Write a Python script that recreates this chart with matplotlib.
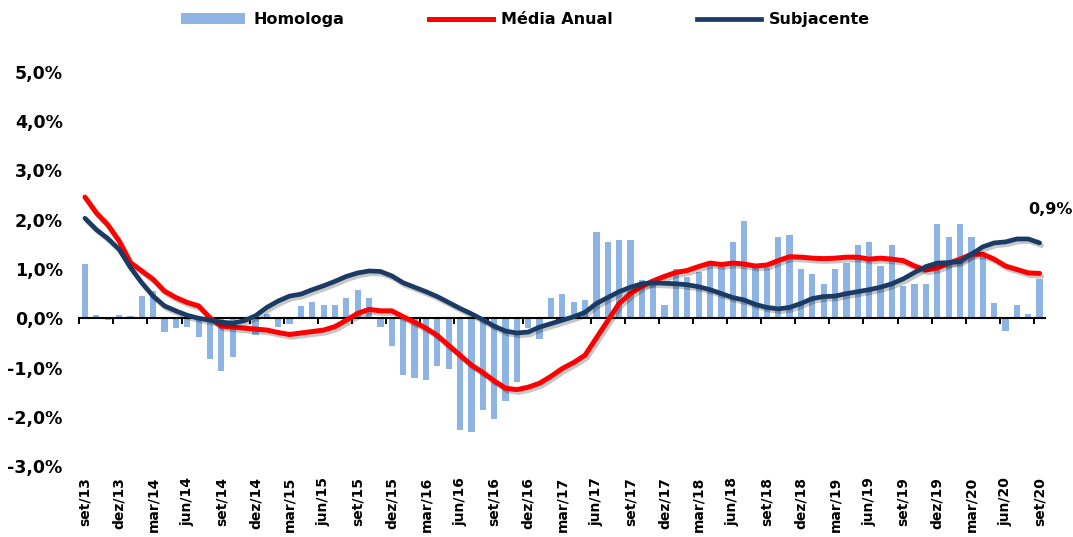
import numpy as np
import matplotlib.pyplot as plt
import matplotlib.patheffects as pe
from matplotlib.lines import Line2D
from matplotlib.patches import Patch
from matplotlib.ticker import FuncFormatter

# monthly values, set/13 .. set/20 (in %)
homologa = [1.1, 0.07, -0.04, 0.07, 0.04, 0.45, 0.55, -0.27, -0.2, -0.17,
            -0.39, -0.82, -1.07, -0.78, -0.03, -0.33, 0.08, -0.18, -0.11, 0.24,
            0.34, 0.27, 0.27, 0.41, 0.57, 0.41, -0.18, -0.57, -1.15, -1.21,
            -1.25, -0.97, -1.03, -2.27, -2.31, -1.86, -2.05, -1.69, -1.29, -0.2,
            -0.43, 0.42, 0.5, 0.34, 0.37, 1.76, 1.55, 1.59, 1.59, 0.78,
            0.78, 0.27, 0.99, 0.84, 0.94, 1.15, 1.05, 1.55, 1.98, 1.04,
            1.02, 1.65, 1.69, 1.0, 0.89, 0.7, 1.0, 1.12, 1.48, 1.55,
            1.06, 1.48, 0.66, 0.69, 0.69, 1.92, 1.65, 1.92, 1.65, 1.28,
            0.3, -0.25, 0.26, 0.09, 0.8]

media_anual = [2.46, 2.14, 1.9, 1.57, 1.13, 0.96, 0.79, 0.55, 0.42, 0.32,
               0.25, 0.01, -0.16, -0.18, -0.2, -0.22, -0.24, -0.29, -0.33, -0.3,
               -0.27, -0.24, -0.17, -0.04, 0.1, 0.18, 0.15, 0.15, 0.03, -0.08,
               -0.2, -0.35, -0.55, -0.75, -0.95, -1.1, -1.27, -1.42, -1.45, -1.4,
               -1.32, -1.18, -1.02, -0.9, -0.75, -0.4, -0.05, 0.3, 0.5, 0.65,
               0.76, 0.85, 0.93, 0.97, 1.05, 1.12, 1.09, 1.12, 1.1, 1.06,
               1.08, 1.17, 1.25, 1.24, 1.22, 1.21, 1.22, 1.24, 1.24, 1.2,
               1.22, 1.2, 1.17, 1.06, 0.98, 1.02, 1.12, 1.2, 1.3, 1.3,
               1.2, 1.06, 0.99, 0.92, 0.91]

subjacente = [2.03, 1.8, 1.62, 1.4, 1.03, 0.72, 0.45, 0.25, 0.15, 0.06,
              0.0, -0.04, -0.08, -0.1, -0.05, 0.05, 0.22, 0.35, 0.45, 0.49,
              0.58, 0.66, 0.75, 0.85, 0.92, 0.96, 0.95, 0.86, 0.72, 0.63,
              0.54, 0.44, 0.32, 0.2, 0.09, -0.03, -0.16, -0.26, -0.3, -0.28,
              -0.18, -0.11, -0.04, 0.03, 0.12, 0.3, 0.42, 0.54, 0.63, 0.7,
              0.72, 0.71, 0.7, 0.68, 0.64, 0.58, 0.5, 0.42, 0.37, 0.28,
              0.22, 0.19, 0.22, 0.3, 0.4, 0.44, 0.45, 0.5, 0.54, 0.58,
              0.63, 0.7, 0.8, 0.93, 1.05, 1.12, 1.13, 1.15, 1.3, 1.45,
              1.53, 1.55, 1.61, 1.61, 1.53]

tick_labels = ['set/13', 'dez/13', 'mar/14', 'jun/14', 'set/14', 'dez/14',
               'mar/15', 'jun/15', 'set/15', 'dez/15', 'mar/16', 'jun/16',
               'set/16', 'dez/16', 'mar/17', 'jun/17', 'set/17', 'dez/17',
               'mar/18', 'jun/18', 'set/18', 'dez/18', 'mar/19', 'jun/19',
               'set/19', 'dez/19', 'mar/20', 'jun/20', 'set/20']

BLUE = '#8DB4E2'
RED = '#FF0000'
NAVY = '#1B3A64'

x = np.arange(len(homologa))

fig = plt.figure(figsize=(10.73, 5.37), dpi=100)
ax = fig.add_axes([79.3 / 1073, 71 / 537, 966 / 1073, 394 / 537])

ax.bar(x, homologa, width=0.55, color=BLUE, zorder=2)

shadow = [pe.SimpleLineShadow(offset=(1.5, -2), shadow_color='black', alpha=0.22),
          pe.Normal()]
ax.plot(x, media_anual, color=RED, lw=3.6, solid_capstyle='round',
        solid_joinstyle='round', zorder=4, path_effects=shadow)
ax.plot(x, subjacente, color=NAVY, lw=3.4, solid_capstyle='round',
        solid_joinstyle='round', zorder=5, path_effects=shadow)

ax.set_xlim(-0.5, len(x) - 0.5)
ax.set_ylim(-3, 5)
ax.set_yticks(np.arange(-3, 6))
ax.yaxis.set_major_formatter(FuncFormatter(lambda v, p: f'{v:.1f}%'.replace('.', ',')))
ax.tick_params(axis='y', length=0, pad=12, labelsize=12.5)
for t in ax.get_yticklabels():
    t.set_fontweight('bold')

for s in ['top', 'right', 'left']:
    ax.spines[s].set_visible(False)
ax.spines['bottom'].set_position(('data', 0))
ax.spines['bottom'].set_linewidth(1.5)
ax.spines['bottom'].set_zorder(3)

ax.set_xticks(np.arange(-0.5, len(x) - 1, 3))
ax.tick_params(axis='x', direction='out', length=4.5, width=1.4, labelbottom=False)

sec = ax.secondary_xaxis('bottom')
sec.set_xticks(np.arange(0, len(x), 3), tick_labels)
sec.tick_params(length=0, pad=8, labelsize=10, rotation=90)
sec.spines['bottom'].set_visible(False)
for t in sec.get_xticklabels():
    t.set_fontweight('bold')

ax.text(83.0, 2.2, '0,9%', fontsize=11.5, fontweight='bold', ha='left',
        va='center', clip_on=False)

handles = [Patch(facecolor=BLUE),
           Line2D([], [], color=RED, lw=3.6),
           Line2D([], [], color=NAVY, lw=3.4)]
fig.legend(handles, ['Homologa', 'Média Anual', 'Subjacente'], loc='center',
           bbox_to_anchor=(0.49, 0.963), ncol=3, frameon=False,
           prop={'weight': 'bold', 'size': 11.5}, handlelength=4,
           columnspacing=5.3, handletextpad=0.5)

fig.savefig('out.png', dpi=100)
